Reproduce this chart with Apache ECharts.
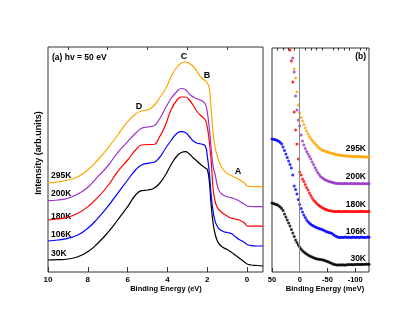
<!DOCTYPE html>
<html>
<head>
<meta charset="utf-8">
<script src="https://cdn.jsdelivr.net/npm/echarts@6/dist/echarts.min.js"></script>
<style>
  html, body { margin: 0; padding: 0; background: #fff; }
  #chart { width: 415px; height: 321px; }
</style>
</head>
<body>
<div id="chart"></div>
<script>
// panel (a): valence band spectra, binding energy in eV
const energyA = [10, 9.5, 9, 8.5, 8, 7.5, 7, 6.5, 6, 5.6, 5.3, 5, 4.7, 4.4, 4.1, 3.8, 3.5, 3.3, 3.1, 2.9,
  2.7, 2.5, 2.3, 2.1, 2.0, 1.9, 1.8, 1.7, 1.6, 1.5, 1.4, 1.2, 1.0, 0.8, 0.6, 0.4, 0.2, 0.1, 0, -0.2, -0.5, -0.8];
const a30K = [12, 12.3, 13, 15.3, 20.3, 28.7, 39.3, 52, 65.3, 77, 81.3, 82, 83.5, 88.5, 97, 108, 116.5, 119.5, 120.3, 118,
  114, 110.5, 107, 104, 102.5, 91, 66, 48, 37.5, 31.5, 28, 24.5, 22.5, 20, 17, 14, 11, 9.5, 8, 7, 6.5, 6];
const a106K = [31, 32, 33.7, 37, 43.7, 53.7, 65.3, 78.7, 92, 102, 107, 108.7, 109.5, 114.5, 123.5, 132, 139, 140.3, 139.5, 135.5,
  131, 128.7, 128, 126, 116, 100, 76, 60, 50.3, 46, 43, 40.5, 39.5, 38.5, 35.5, 32.5, 30.5, 29, 27.5, 26.3, 26, 26];
const a180K = [52, 53, 54.7, 58.7, 65.3, 74.7, 86, 100.3, 112, 122, 127, 127.5, 127.5, 135, 147, 163, 172.5, 175, 175, 172,
  166.5, 160, 156, 152, 145, 131, 110, 82, 70, 65, 62, 58.5, 56, 54, 53, 52, 50, 48.5, 46, 45.8, 45.8, 45.8];
const a200K = [71.3, 72, 73.7, 78, 84.7, 95.3, 106, 119.3, 130.3, 138.7, 143.7, 145, 146, 153, 164, 174, 181, 183.5, 182.5, 178,
  175, 173, 171.5, 168, 160, 144, 123, 105, 97, 87, 81, 77, 75.3, 74.3, 73, 71, 68.5, 67.5, 66, 65.5, 65.3, 65.3];
const a295K = [89, 90, 92, 95.3, 102, 112, 123.7, 137, 150.3, 158, 161, 162, 166, 174, 183, 196, 205.5, 209, 210, 208.5,
  205.5, 200, 194.5, 191, 189, 184, 162, 138, 124, 116.5, 110, 102.5, 98.5, 96.5, 94.5, 92.5, 90, 88.5, 86, 85.5, 85.3, 85.3];

// panel (b): near the Fermi edge, binding energy in meV
const energyB = [50, 47.5, 45, 42.5, 40, 37.5, 35, 32.5, 30, 27.5, 25, 22.5, 20, 17.5, 15, 12.5, 10, 7.5, 5, 2.5,
  0, -2.5, -5, -7.5, -10, -12.5, -15, -17.5, -20, -22.5, -25, -27.5, -30, -32.5, -35, -37.5, -40, -42.5, -45, -47.5,
  -50, -52.5, -55, -57.5, -60, -62.5, -65, -67.5, -70, -72.5, -75, -77.5, -80, -82.5, -85, -87.5, -90, -92.5, -95, -97.5,
  -100, -102.5, -105, -107.5, -110, -112.5, -115, -117.5, -120, -122.5, -125];
const b30K = [69, 68.5, 68, 67.5, 67, 66, 65, 63.5, 61.5, 58, 55, 52, 49, 46, 42.5, 39, 35.5, 32, 29.5, 27,
  25, 23, 21.3, 20, 19, 18, 17, 16.3, 15.5, 15, 14.2, 13.7, 13.3, 13, 12.8, 12.5, 12.2, 12, 11.5, 11,
  10.5, 10, 9.3, 8.7, 8, 7.5, 7.2, 7, 7, 7.2, 7, 7.3, 7.1, 7, 7.2, 7.4, 7.2, 7.5, 7.3, 7.6,
  7.4, 7.5, 7.7, 7.5, 7.6, 7.8, 7.6, 7.7, 7.9, 7.7, 7.8];
const b106K = [133, 132.8, 132.5, 132, 131.5, 130.5, 129.5, 128, 125, 121.5, 118, 114.5, 111, 107.5, 104, 97, 86, 82.5, 78, 72.5,
  67.5, 63.5, 60, 57, 54.5, 52, 50.3, 49, 47.7, 46.7, 46, 45.2, 44.5, 44, 43.5, 43, 42.5, 42, 41.3, 40.6,
  40, 39.5, 39.2, 38.7, 37.8, 36.8, 35.8, 35.2, 34.8, 34.6, 34.8, 34.5, 34.7, 34.9, 34.6, 34.8, 34.7, 34.5, 34.8, 34.9,
  34.6, 34.7, 34.8, 34.6, 34.9, 34.7, 34.8, 34.6, 34.7, 34.9, 34.8];
const b180K = [null, null, null, null, null, null, null, null, null, null, null, null, null, 222, 211, 190, 160, 142, 128, 113,
  100, 97, 93, 90.5, 87.5, 84.5, 82, 79, 76.5, 74, 72, 70.5, 69, 67.5, 66.5, 65.5, 64.5, 63.8, 63, 62.5,
  62, 61.5, 61.2, 61, 60.7, 60.5, 60.6, 60.4, 60.7, 60.5, 60.3, 60.6, 60.4, 60.5, 60.7, 60.4, 60.6, 60.5, 60.3, 60.6,
  60.5, 60.4, 60.6, 60.5, 60.7, 60.4, 60.5, 60.6, 60.4, 60.5, 60.6];
const b200K = [null, null, null, null, null, null, null, null, null, null, null, null, null, null, null, 214, 200, 176, 162, 152,
  146, 137, 131, 127, 123.5, 120.5, 118, 115.5, 113, 110, 107.5, 104.5, 102, 99.5, 97.5, 95.5, 94.5, 93.5, 92.5, 91.8,
  91.2, 90.6, 90.2, 89.8, 89.4, 89, 88.7, 88.5, 88.6, 88.4, 88.5, 88.3, 88.5, 88.4, 88.6, 88.3, 88.4, 88.5, 88.3, 88.4,
  88.2, 88.4, 88.3, 88.5, 88.2, 88.3, 88.4, 88.2, 88.3, 88.4, 88.2];
const b295K = [null, null, null, null, null, null, null, null, null, null, null, null, null, null, null, null, 203, 194, 180, 167,
  159, 154.5, 151, 147.5, 144, 141, 138, 135.5, 133.5, 131.5, 130, 128.5, 127, 125.5, 124, 123, 122, 121.5, 121, 120.5,
  120, 119.5, 119, 118.8, 118.4, 118, 117.6, 117.3, 117, 116.8, 116.6, 116.4, 116.2, 116.1, 116, 115.9, 115.8, 115.7, 115.6, 115.6,
  115.5, 115.5, 115.4, 115.4, 115.3, 115.3, 115.2, 115.2, 115.1, 115.1, 115];

const temps = ['30K', '106K', '180K', '200K', '295K'];
const seriesA = [a30K, a106K, a180K, a200K, a295K];
const seriesB = [b30K, b106K, b180K, b200K, b295K];
const colors = ['#000000', '#0000ff', '#ff0000', '#9932cc', '#ffa500'];

const FONT = 'Liberation Sans';

function pairs(xs, ys) {
  const out = [];
  xs.forEach((x, i) => { if (ys[i] !== null) out.push([x, ys[i]]); });
  return out;
}

const chart = echarts.init(document.getElementById('chart'));

const labelStyle = { fontSize: 8, fontWeight: 'bold', color: '#000', fontFamily: FONT };
const tickStyle = { color: '#333', width: 1 };

function text(str, x, y, size, align, extra) {
  return Object.assign({
    type: 'text', x: x, y: y, silent: true,
    style: { text: str, font: 'bold ' + size + 'px "' + FONT + '"', fill: '#000', textAlign: align || 'left', textVerticalAlign: 'middle' }
  }, extra || {});
}

const option = {
  animation: false,
  backgroundColor: '#fff',
  grid: [
    { left: 48, top: 47, width: 215, height: 225, show: true, borderColor: '#333', borderWidth: 1 },
    { left: 272, top: 48, width: 97, height: 224, show: true, borderColor: '#333', borderWidth: 1 }
  ],
  xAxis: [
    {
      gridIndex: 0, type: 'value', min: -0.8, max: 10, inverse: true,
      axisLine: { show: false }, splitLine: { show: false },
      axisTick: { inside: true, length: 5, customValues: [0, 2, 4, 6, 8, 10], lineStyle: tickStyle },
      axisLabel: Object.assign({ customValues: [0, 2, 4, 6, 8, 10], margin: 4 }, labelStyle)
    },
    {
      gridIndex: 0, type: 'value', min: -0.8, max: 10, inverse: true,
      axisLine: { show: false }, splitLine: { show: false }, axisLabel: { show: false },
      axisTick: { inside: true, length: 3, customValues: [1, 3, 5, 7, 9], lineStyle: tickStyle }
    },
    {
      gridIndex: 1, type: 'value', min: -125, max: 50, inverse: true,
      axisLine: { show: false }, splitLine: { show: false },
      axisTick: { inside: true, length: 4, customValues: [50, 0, -50, -100], lineStyle: tickStyle },
      axisLabel: Object.assign({ customValues: [50, 0, -50, -100], margin: 4 }, labelStyle, { fontSize: 7.5 })
    },
    {
      gridIndex: 1, type: 'value', min: -125, max: 50, inverse: true,
      axisLine: { show: false }, splitLine: { show: false }, axisLabel: { show: false },
      axisTick: { inside: true, length: 2.5, customValues: [40, 30, 20, 10, -10, -20, -30, -40, -60, -70, -80, -90, -110, -120], lineStyle: tickStyle }
    }
  ],
  yAxis: [
    { gridIndex: 0, type: 'value', min: 0, max: 225, show: false },
    { gridIndex: 1, type: 'value', min: 0, max: 224, show: false }
  ],
  series: [],
  graphic: [
    text('(a) hv = 50 eV', 52, 58, 8.5),
    text('C', 184, 57, 9, 'center'),
    text('B', 207, 76, 9, 'center'),
    text('D', 139, 107, 9, 'center'),
    text('A', 238, 172, 9, 'center'),
    text('(b)', 366, 57, 8.5, 'right'),
    text('Binding Energy (eV)', 166, 289, 7.5, 'center'),
    text('Binding Energy (meV)', 325, 289, 7.5, 'center'),
    text('Intensity (arb.units)', 39, 153, 9, 'center', { rotation: Math.PI / 2 })
  ]
};

// label positions of the temperatures, panel (a) left side and panel (b) right side
const labelYA = [254, 235, 217, 194, 176];
const labelYB = [259, 232, 205, 177, 149];

temps.forEach((t, i) => {
  option.series.push({
    name: t, type: 'line', xAxisIndex: 0, yAxisIndex: 0,
    data: pairs(energyA, seriesA[i]),
    showSymbol: false, smooth: 0.5,
    lineStyle: { color: colors[i], width: 1.2 },
    silent: true
  });
  option.series.push({
    name: t + ' edge', type: 'scatter', xAxisIndex: 2, yAxisIndex: 1,
    data: pairs(energyB, seriesB[i]),
    symbolSize: 3,
    itemStyle: { color: colors[i] },
    silent: true
  });
  option.graphic.push(text(t, 51, labelYA[i], 8.5));
  option.graphic.push(text(t, 366, labelYB[i], 8.5, 'right'));
});

// zero line in panel (b)
option.series.push({
  type: 'line', xAxisIndex: 2, yAxisIndex: 1, data: [],
  markLine: {
    silent: true, symbol: 'none', label: { show: false },
    lineStyle: { color: '#888', width: 1, type: 'solid' },
    data: [{ xAxis: 0 }]
  }
});

chart.setOption(option);
</script>
</body>
</html>
